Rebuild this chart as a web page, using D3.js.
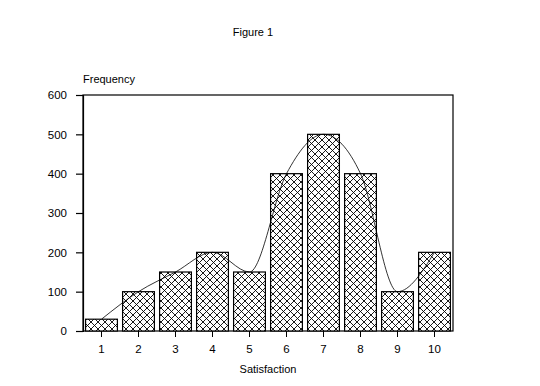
<!DOCTYPE html>
<html><head><meta charset="utf-8">
<script src="https://cdn.jsdelivr.net/npm/d3@7"></script>
<style>body{margin:0;background:#fff}svg{display:block}text{font-family:Arial,"Liberation Sans",sans-serif;font-size:11px;fill:#000}</style>
</head><body>
<script>
const categories = ["1","2","3","4","5","6","7","8","9","10"];
const frequency = [30,100,150,200,150,400,500,400,100,200];
const yTicks = [0,100,200,300,400,500,600];
const title = "Figure 1";
const xLabel = "Satisfaction";
const yLabel = "Frequency";

(function(){
const W = 540, H = 386;
const svg = d3.select("body").append("svg").attr("width", W).attr("height", H);
const mL = 83, mR = 453, mT = 95, mB = 331;

const defs = svg.append("defs");
const pat = defs.append("pattern").attr("id","hatch").attr("patternUnits","userSpaceOnUse")
  .attr("width",7).attr("height",7);
pat.append("rect").attr("width",7).attr("height",7).attr("fill","#fff");
pat.append("path").attr("d","M0,0L7,7M7,0L0,7M-1,6L1,8M6,-1L8,1M-1,1L1,-1M6,8L8,6").attr("stroke","#000").attr("stroke-width",0.9);

const x = d3.scaleBand().domain(categories).range([mL, mR]).paddingInner(0.14).paddingOuter(0.07);
const y = d3.scaleLinear().domain([0,600]).range([mB, mT]);

svg.append("rect").attr("x",mL).attr("y",mT).attr("width",mR-mL).attr("height",mB-mT)
  .attr("fill","none").attr("stroke","#000").attr("stroke-width",1.2);

svg.append("g").selectAll("rect").data(frequency).join("rect")
  .attr("x",(d,i)=>x(categories[i])).attr("y",d=>y(d))
  .attr("width",x.bandwidth()).attr("height",d=>mB-y(d))
  .attr("fill","url(#hatch)").attr("stroke","#000").attr("stroke-width",1.2);

const line = d3.line().x((d,i)=>x(categories[i])+x.bandwidth()/2).y(d=>y(d)).curve(d3.curveMonotoneX);
svg.append("path").attr("d",line(frequency)).attr("fill","none").attr("stroke","#000").attr("stroke-width",0.8);

const ya = svg.append("g").attr("transform",`translate(${mL},0)`)
  .call(d3.axisLeft(y).tickValues(yTicks).tickSize(7).tickPadding(9));
ya.select(".domain").attr("stroke","#000").attr("stroke-width",1.2);
ya.selectAll(".tick line").attr("stroke-width",1.2);
ya.selectAll("text").style("font-size","11.5px").style("font-family","Arial, 'Liberation Sans', sans-serif");

const xa = svg.append("g").attr("transform",`translate(0,${mB})`)
  .call(d3.axisBottom(x).tickSize(6).tickPadding(8));
xa.select(".domain").remove();
xa.selectAll(".tick line").attr("stroke-width",1);
xa.selectAll("text").style("font-size","11.5px").style("font-family","Arial, 'Liberation Sans', sans-serif");

svg.append("text").attr("x",253).attr("y",36).attr("text-anchor","middle").text(title);
svg.append("text").attr("x",83).attr("y",83).text(yLabel);
svg.append("text").attr("x",268).attr("y",373).attr("text-anchor","middle").text(xLabel);
})();
</script>
</body></html>
